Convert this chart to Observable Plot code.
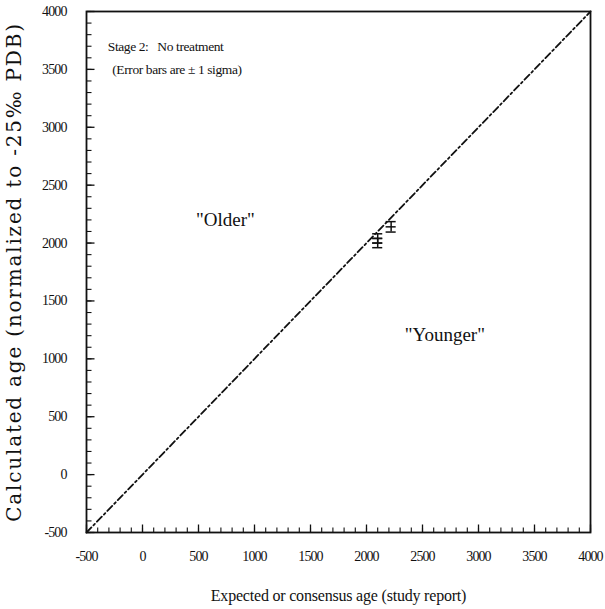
<!DOCTYPE html>
<html>
<head>
<meta charset="utf-8">
<script src="https://cdn.jsdelivr.net/npm/d3@7"></script>
<script src="https://cdn.jsdelivr.net/npm/@observablehq/plot@0.6"></script>
<style>
  html, body { margin: 0; padding: 0; background: #fff; }
  #chart svg { display: block; }
  #chart g[aria-label="x-axis tick label"] text,
  #chart g[aria-label="y-axis tick label"] text { font-family: "Liberation Serif", serif; font-size: 14px; letter-spacing: -0.9px; }
  #chart g[aria-label="y-axis label"] text { font-family: "DejaVu Serif", serif; font-size: 20px; letter-spacing: 1.8px; }
  #chart g[aria-label="x-axis label"] text { font-family: "Liberation Serif", serif; font-size: 16px; letter-spacing: -0.2px; }
  #chart g.notes text { letter-spacing: -0.4px; }
</style>
</head>
<body>
<div id="chart"></div>
<script>
// Data
const expected   = [2100, 2100, 2220];
const calculated = [2000, 2040, 2140];
const xErr       = [45, 45, 45];
const yErr       = [40, 40, 45];

const majorTicks = [-500, 0, 500, 1000, 1500, 2000, 2500, 3000, 3500, 4000];
const minorTicks = d3.range(-500, 4001, 100);
const diagonal   = [-500, 4000];
const axisMin    = -500;

const legendNotes = [
  {x: -310, y: 3700, text: "Stage 2:   No treatment"},
  {x: -270, y: 3500, text: "(Error bars are \u00b1 1 sigma)"}
];
const regionNotes = [
  {x: 740,  y: 2200, text: "\"Older\""},
  {x: 2700, y: 1210, text: "\"Younger\""}
];

const pts = expected.map((e, i) => ({
  x: e, y: calculated[i], xe: xErr[i], ye: yErr[i]
}));

const serif = "Liberation Serif, serif";
const ink = "#111";

// tick-shaped symbols (length = symbol radius)
const tickUp = {draw(ctx, size) { const l = Math.sqrt(size / Math.PI); ctx.moveTo(0, 0); ctx.lineTo(0, -l); }};
const tickRight = {draw(ctx, size) { const l = Math.sqrt(size / Math.PI); ctx.moveTo(0, 0); ctx.lineTo(l, 0); }};

const chart = Plot.plot({
  width: 605,
  height: 609,
  marginLeft: 86,
  marginRight: 15,
  marginTop: 11,
  marginBottom: 77,
  style: {background: "#fff", color: ink},
  x: {domain: [-500, 4000]},
  y: {domain: [-500, 4000]},
  marks: [
    // inward minor ticks
    Plot.dot(minorTicks, {x: d => d, y: axisMin, r: 5, symbol: tickUp, fill: "none", stroke: ink, strokeWidth: 1.1}),
    Plot.dot(minorTicks, {x: axisMin, y: d => d, r: 5, symbol: tickRight, fill: "none", stroke: ink, strokeWidth: 1.1}),
    // inward major ticks
    Plot.dot(majorTicks, {x: d => d, y: axisMin, r: 8, symbol: tickUp, fill: "none", stroke: ink, strokeWidth: 1.3}),
    Plot.dot(majorTicks, {x: axisMin, y: d => d, r: 8, symbol: tickRight, fill: "none", stroke: ink, strokeWidth: 1.3}),
    // labels
    Plot.axisX(majorTicks, {
      tickSize: 0, tickPadding: 19, tickFormat: d => String(d),
      label: "Expected or consensus age (study report)",
      labelAnchor: "center", labelOffset: 68, labelArrow: "none"
    }),
    Plot.axisY(majorTicks, {
      tickSize: 0, tickPadding: 20, tickFormat: d => String(d),
      label: "Calculated age (normalized to -25\u2030 PDB)",
      labelAnchor: "center", labelOffset: 80, labelArrow: "none"
    }),
    Plot.frame({stroke: ink, strokeWidth: 1.8}),
    Plot.line(diagonal, {x: d => d, y: d => d, stroke: ink, strokeWidth: 1.8, strokeDasharray: "7,3,2,3"}),
    // vertical error bars
    Plot.ruleX(pts, {x: "x", y1: d => d.y - d.ye, y2: d => d.y + d.ye, stroke: ink, strokeWidth: 1.5}),
    // caps
    Plot.ruleY(pts, {y: d => d.y - d.ye, x1: d => d.x - d.xe, x2: d => d.x + d.xe, stroke: ink, strokeWidth: 1.5}),
    Plot.ruleY(pts, {y: d => d.y + d.ye, x1: d => d.x - d.xe, x2: d => d.x + d.xe, stroke: ink, strokeWidth: 1.5}),
    // point marker (horizontal bar)
    Plot.ruleY(pts, {y: "y", x1: d => d.x - d.xe, x2: d => d.x + d.xe, stroke: ink, strokeWidth: 1.5}),
    // annotations
    Plot.text(legendNotes, {x: "x", y: "y", text: "text", fontSize: 13.5, textAnchor: "start", fontFamily: serif, fill: ink, className: "notes"}),
    Plot.text(regionNotes, {x: "x", y: "y", text: "text", fontSize: 19, textAnchor: "middle", fontFamily: serif, fill: ink})
  ]
});

document.getElementById("chart").appendChild(chart);
</script>
</body>
</html>
